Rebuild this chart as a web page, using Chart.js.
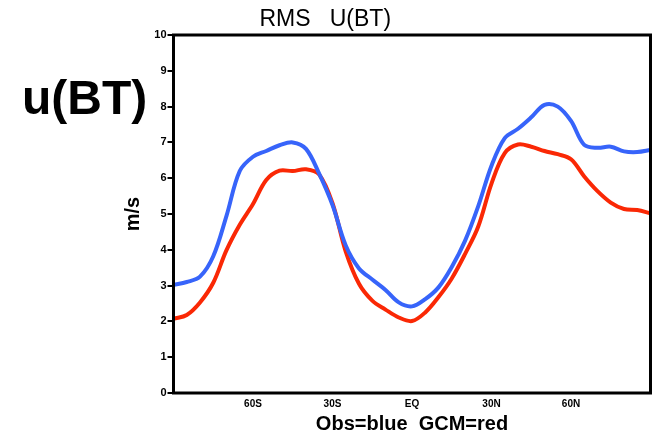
<!DOCTYPE html>
<html>
<head>
<meta charset="utf-8">
<script src="https://cdn.jsdelivr.net/npm/chart.js@4.4.1/dist/chart.umd.min.js"></script>
<style>
    body { margin: 0; background: #fff; }
    #wrap { position: relative; width: 652px; height: 437px; }
    #bigLabel {
        position: absolute; left: 22px; top: 74px;
        font: bold 48px "Liberation Sans", Arial, sans-serif;
        line-height: 48px; color: #000;
    }
</style>
</head>
<body>
<div id="wrap">
    <canvas id="rmsChart" width="652" height="437"></canvas>
    <div id="bigLabel">u(BT)</div>
</div>
<script>
// latitude grid (deg, south negative)
const lats = [-90, -85, -80, -75, -70, -65, -60, -55, -50, -45, -40, -35, -30, -25, -20, -15, -10, -5,
    0, 5, 10, 15, 20, 25, 30, 35, 40, 45, 50, 55, 60, 65, 70, 75, 80, 85, 90];

// Obs (blue)
const obsRms = [3.02, 3.10, 3.25, 3.82, 4.95, 6.20, 6.60, 6.76, 6.92, 7.00, 6.82, 6.12, 5.25, 4.12, 3.48, 3.17, 2.88, 2.53,
    2.42, 2.62, 2.95, 3.52, 4.25, 5.22, 6.35, 7.12, 7.38, 7.70, 8.05, 8.00, 7.60, 6.93, 6.85, 6.88, 6.75, 6.73, 6.79];

// GCM (red)
const gcmRms = [2.07, 2.18, 2.53, 3.08, 3.99, 4.70, 5.28, 5.95, 6.21, 6.20, 6.25, 6.10, 5.30, 3.95, 3.05, 2.58, 2.33, 2.11,
    2.01, 2.25, 2.68, 3.20, 3.88, 4.65, 5.85, 6.70, 6.94, 6.88, 6.76, 6.67, 6.53, 6.05, 5.64, 5.32, 5.14, 5.11, 5.02];

const xTickLabels = { '-60': '60S', '-30': '30S', '0': 'EQ', '30': '30N', '60': '60N' };

const fontFam = '"Liberation Sans", Arial, sans-serif';

// moldura preta em volta da area do grafico
const framePlugin = {
    id: 'frame',
    afterDraw(chart) {
        const { ctx, chartArea: a } = chart;
        ctx.save();
        ctx.strokeStyle = '#000';
        ctx.lineWidth = 3;
        ctx.strokeRect(a.left, a.top, a.right - a.left, a.bottom - a.top);
        ctx.restore();
    }
};

const ctx = document.getElementById('rmsChart');

new Chart(ctx, {
    type: 'line',
    data: {
        datasets: [{
            label: 'Obs',
            data: lats.map((l, i) => ({ x: l, y: obsRms[i] })),
            borderColor: 'rgb(55, 100, 250)',
            borderWidth: 4,
            pointRadius: 0,
            tension: 0.35
        }, {
            label: 'GCM',
            data: lats.map((l, i) => ({ x: l, y: gcmRms[i] })),
            borderColor: 'rgb(250, 40, 5)',
            borderWidth: 4,
            pointRadius: 0,
            tension: 0.35
        }]
    },
    options: {
        responsive: false,
        animation: false,
        layout: { padding: { left: 0, right: 1.5, top: 0, bottom: 0 } },
        plugins: {
            legend: { display: false },
            tooltip: { enabled: false },
            title: {
                display: true,
                text: 'RMS   U(BT)',
                color: '#000',
                font: { family: fontFam, size: 23, weight: 'normal', lineHeight: 1.2 },
                padding: { top: 5.7, bottom: 1.7 },
                align: 'center'
            }
        },
        scales: {
            x: {
                type: 'linear',
                min: -90,
                max: 90,
                afterFit: s => { s.height = 44; },
                afterBuildTicks: s => { s.ticks = [-60, -30, 0, 30, 60].map(v => ({ value: v })); },
                grid: { display: false, drawTicks: false },
                border: { display: false },
                ticks: {
                    color: '#000',
                    padding: 5,
                    maxRotation: 0,
                    font: { family: fontFam, size: 10, weight: 'bold' },
                    callback: v => xTickLabels[String(v)] || ''
                },
                title: {
                    display: true,
                    text: 'Obs=blue  GCM=red',
                    color: '#000',
                    font: { family: fontFam, size: 20, weight: 'bold', lineHeight: 1.2 },
                    padding: { top: 0, bottom: 1 }
                }
            },
            y: {
                min: 0,
                max: 10,
                afterFit: s => { s.width = 173.5; },
                grid: {
                    drawOnChartArea: false,
                    drawTicks: true,
                    tickLength: 6,
                    color: '#000',
                    lineWidth: 2
                },
                border: { display: false },
                ticks: {
                    stepSize: 1,
                    color: '#000',
                    padding: 1,
                    font: { family: fontFam, size: 11, weight: 'bold' }
                },
                title: {
                    display: true,
                    text: 'm/s',
                    color: '#000',
                    font: { family: fontFam, size: 20, weight: 'bold', lineHeight: 1.2 },
                    padding: { top: 121, bottom: 0 }
                }
            }
        }
    },
    plugins: [framePlugin]
});
</script>
</body>
</html>
